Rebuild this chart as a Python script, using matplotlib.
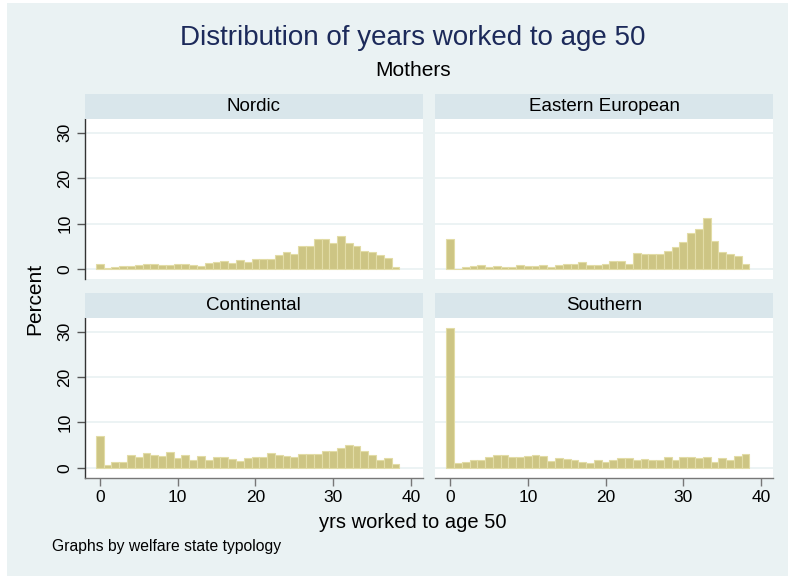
import numpy as np
import matplotlib
matplotlib.use("Agg")
import matplotlib.pyplot as plt
from matplotlib.patches import Rectangle

plt.rcParams['font.family'] = ['Liberation Sans', 'DejaVu Sans']

# years worked to age 50 (bin centres) and percent per bin, per typology
years = list(range(39))
panels = ["Nordic", "Eastern European", "Continental", "Southern"]

nordic = [1.1, 0.2, 0.4, 0.6, 0.7, 0.8, 1.0, 1.0, 0.9, 0.8, 1.0, 1.0, 0.9, 0.7,
          1.25, 1.6, 1.7, 1.4, 2.0, 1.6, 2.2, 2.2, 2.1, 3.1, 3.8, 3.2, 5.1, 5.1,
          6.5, 6.5, 5.8, 7.3, 5.8, 5.0, 4.0, 3.75, 3.1, 2.5, 0.5]
eastern = [6.5, 0.0, 0.5, 0.65, 0.95, 0.45, 0.75, 0.5, 0.5, 0.95, 0.65, 0.6, 0.9,
           0.5, 0.95, 1.2, 1.2, 1.6, 0.95, 0.9, 1.2, 1.7, 1.8, 1.2, 3.6, 3.2, 3.3,
           3.2, 4.0, 4.8, 6.0, 7.9, 8.75, 11.25, 6.25, 3.8, 3.2, 2.9, 1.1]
continental = [6.9, 0.65, 1.3, 1.3, 2.7, 2.35, 3.2, 2.9, 2.65, 3.5, 2.1, 2.8, 1.8,
               2.5, 1.75, 2.4, 2.35, 2.0, 1.5, 2.1, 2.3, 2.3, 3.2, 2.8, 2.5, 2.4,
               3.0, 3.0, 3.0, 3.7, 3.7, 4.3, 5.1, 4.7, 3.6, 2.8, 1.6, 2.1, 0.9]
southern = [30.9, 1.1, 1.3, 1.6, 1.6, 2.3, 2.7, 2.7, 2.4, 2.4, 2.6, 2.9, 2.65,
            1.55, 2.05, 1.9, 1.75, 1.2, 1.1, 1.7, 1.3, 1.7, 2.05, 2.05, 1.7, 2.0,
            1.7, 1.75, 2.4, 1.75, 2.3, 2.3, 2.2, 2.3, 1.25, 2.1, 1.75, 2.5, 2.95]
values = [nordic, eastern, continental, southern]

xticks = [0, 10, 20, 30, 40]
yticks = [0, 10, 20, 30]

bg = "#EAF2F3"
strip = "#D9E6EB"
bar_face = "#CDC584"
bar_edge = "#E2DCA6"

W, H = 788, 576
fig = plt.figure(figsize=(W / 100, H / 100), dpi=100, facecolor="white")
fig.patches.append(Rectangle((7 / W, 0), 1, 1 - 3 / H, transform=fig.transFigure,
                             facecolor=bg, edgecolor="none", zorder=-10))

# axes boxes in pixels: left, top, right, bottom
boxes = [(85, 119, 422.7, 279), (435.3, 119, 772.7, 279),
         (85, 318, 422.7, 477.7), (435.3, 318, 772.7, 477.7)]

for k, (name, vals) in enumerate(zip(panels, values)):
    l, t, r, b = boxes[k]
    ax = fig.add_axes([l / W, 1 - b / H, (r - l) / W, (b - t) / H])
    ax.set_facecolor("white")
    ax.bar(years, vals, width=1, color=bar_face, edgecolor=bar_edge, linewidth=0.8, zorder=2)
    ax.set_xlim(-1.9, 41.5)
    ax.set_ylim(-2.2, 33)
    ax.set_yticks(yticks)
    ax.set_xticks(xticks)
    ax.grid(axis="y", color=bg, linewidth=1.3, zorder=0)
    ax.set_axisbelow(True)
    for s in ["top", "right"]:
        ax.spines[s].set_visible(False)
    left_col = k % 2 == 0
    bottom_row = k >= 2
    if left_col:
        ax.spines["left"].set_color("#333333")
        ax.spines["left"].set_linewidth(1.0)
        ax.tick_params(axis="y", length=6, width=1, color="#555555", labelsize=12.5, pad=3)
        for lab in ax.get_yticklabels():
            lab.set_rotation(90)
            lab.set_va("center")
    else:
        ax.spines["left"].set_visible(False)
        ax.tick_params(axis="y", left=False, labelleft=False)
    if bottom_row:
        ax.spines["bottom"].set_color("#777777")
        ax.spines["bottom"].set_linewidth(1.0)
        ax.tick_params(axis="x", length=6, width=1, color="#777777", labelsize=12.5, pad=3)
    else:
        ax.spines["bottom"].set_visible(False)
        ax.tick_params(axis="x", bottom=False, labelbottom=False)

    # strip title above each panel
    sax = fig.add_axes([l / W, 1 - (t - 0.3) / H, (r - l) / W, 24.7 / H])
    sax.set_facecolor(strip)
    sax.set_xticks([])
    sax.set_yticks([])
    for s in sax.spines.values():
        s.set_visible(False)
    sax.text(0.5, 0.5, name, ha="center", va="center", fontsize=13.5, color="black",
             transform=sax.transAxes)

fig.text(413 / W, 1 - 38 / H, "Distribution of years worked to age 50", ha="center",
         va="center", fontsize=20, color="#1C2A5A")
fig.text(413 / W, 1 - 70 / H, "Mothers", ha="center", va="center", fontsize=15, color="black")
fig.text(35 / W, 1 - 299 / H, "Percent", ha="center", va="center", rotation=90,
         fontsize=15, color="black")
fig.text(413 / W, 1 - 523 / H, "yrs worked to age 50", ha="center", va="center",
         fontsize=14.5, color="black")
fig.text(52 / W, 1 - 546 / H, "Graphs by welfare state typology", ha="left", va="center",
         fontsize=11.3, color="black")

fig.savefig("out.png", dpi=100, facecolor="white")
